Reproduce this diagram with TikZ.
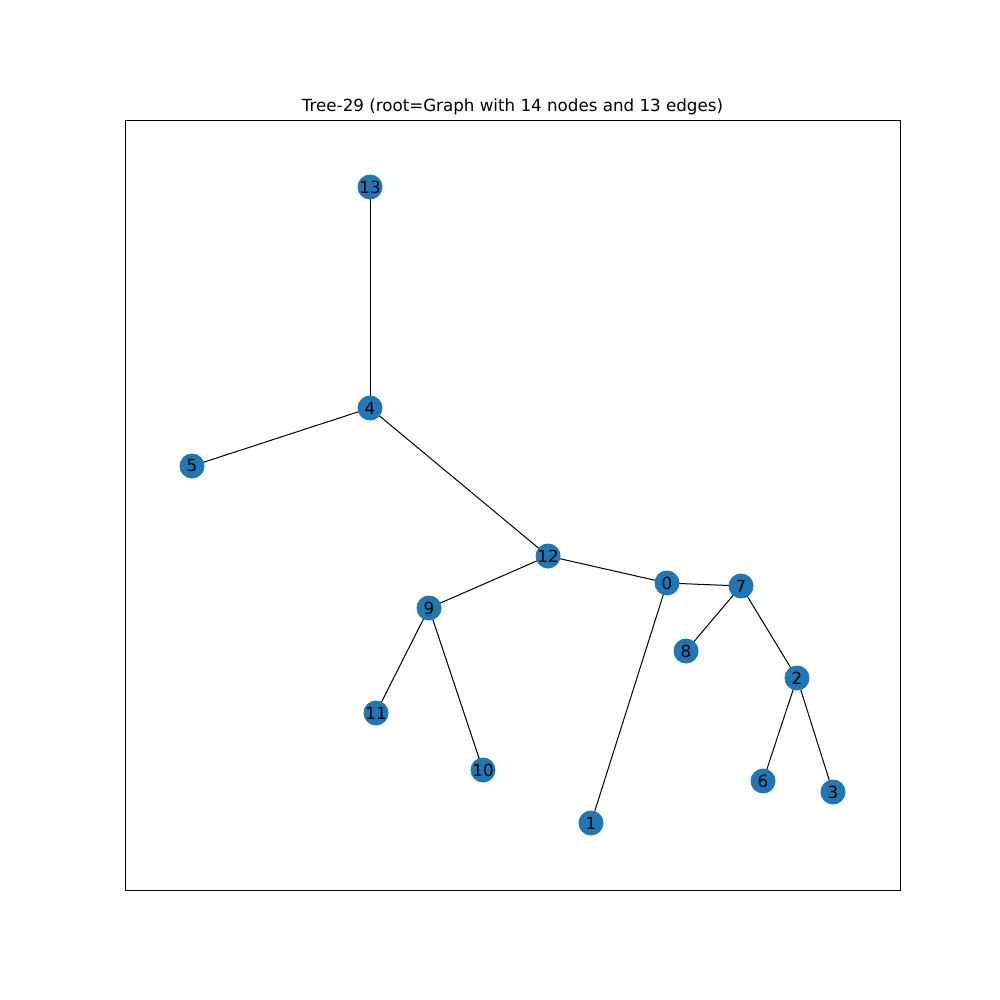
\documentclass[tikz,border=0pt]{standalone}
\usepackage{fontspec}
\setmainfont{DejaVu Sans}
\definecolor{nodeblue}{HTML}{1F77B4}
\begin{document}
\begin{tikzpicture}[x=1pt,y=-1pt,
  vtx/.style={circle,fill=nodeblue,draw=none,minimum size=25pt,inner sep=0pt,
    font=\fontsize{16.7}{17}\selectfont,text=black},
  edge/.style={draw=black,line width=1pt}]
\useasboundingbox (0,0) rectangle (1000,1000);
\fill[white] (0,0) rectangle (1000,1000);
\draw[line width=0.8pt] (125,120) rectangle (900,890);
\node[font=\fontsize{16.7}{17}\selectfont,anchor=base] (title) at (512.5,112) {Tree-29 (root=Graph with 14 nodes and 13 edges)};
\coordinate (p13) at (370,187);
\coordinate (p4) at (370,408);
\coordinate (p5) at (192,466);
\coordinate (p12) at (548,556);
\coordinate (p0) at (667,583);
\coordinate (p7) at (741,586);
\coordinate (p9) at (429,608);
\coordinate (p8) at (686,651);
\coordinate (p2) at (797,678);
\coordinate (p11) at (376,713);
\coordinate (p10) at (483,770);
\coordinate (p6) at (763,781);
\coordinate (p3) at (833,792);
\coordinate (p1) at (591,823);
\foreach \a/\b in {13/4,4/5,4/12,12/9,12/0,0/7,0/1,7/8,7/2,9/11,9/10,2/6,2/3}
  \draw[edge] (p\a) -- (p\b);
\foreach \n in {13,4,5,12,0,7,9,8,2,11,10,6,3,1}
  \node[vtx] (n\n) at (p\n) {\n};
\end{tikzpicture}
\end{document}
